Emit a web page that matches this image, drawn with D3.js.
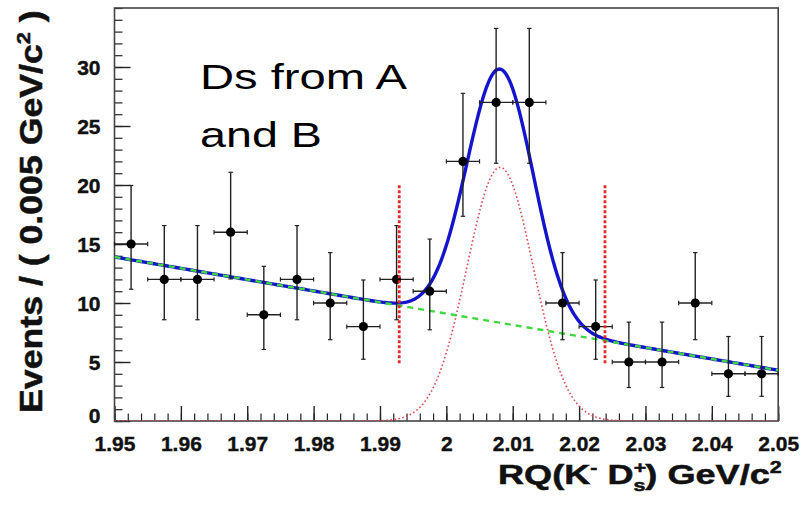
<!DOCTYPE html>
<html>
<head>
<meta charset="utf-8">
<script src="https://cdn.jsdelivr.net/npm/d3@7"></script>
<style>
  html, body { margin: 0; padding: 0; background: #fff; }
  svg { display: block; }
  text { font-family: "Liberation Sans", Arial, Helvetica, sans-serif; }
</style>
</head>
<body>
<svg id="chart" width="802" height="505"></svg>
<script>
// ---------------- data ----------------
const binCenters = [1.9525, 1.9575, 1.9625, 1.9675, 1.9725, 1.9775, 1.9825, 1.9875, 1.9925, 1.9975,
                    2.0025, 2.0075, 2.0125, 2.0175, 2.0225, 2.0275, 2.0325, 2.0375, 2.0425, 2.0475];
const counts     = [15, 12, 12, 16, 9, 12, 10, 8, 12, 11, 22, 27, 27, 10, 8, 5, 5, 10, 4, 4];
const errLowEdge = [11.17, 8.58, 8.58, 12.04, 6.06, 8.58, 6.89, 5.23, 8.58, 7.73,
                    17.35, 21.84, 21.84, 6.89, 5.23, 2.84, 2.84, 6.89, 2.09, 2.09];
const errHighEdge= [19.96, 16.56, 16.56, 21.08, 13.11, 16.56, 14.27, 11.95, 16.56, 15.42,
                    27.77, 33.27, 33.27, 14.27, 11.95, 8.38, 8.38, 14.27, 7.16, 7.16];
const binHalfWidth = 0.0025;

// fit model parameters
const bkgX = [1.95, 2.05];
const bkgY = [13.9, 4.3];
const sigMean = 2.0081;
const sigSigma = 0.0050;
const sigAmp = 21.5;

// signal window markers
const windowX = [1.9929, 2.0239];
const windowY = [4.9, 20.0];

const xTickValues = [1.95, 1.96, 1.97, 1.98, 1.99, 2.00, 2.01, 2.02, 2.03, 2.04, 2.05];
const xTickLabels = ["1.95", "1.96", "1.97", "1.98", "1.99", "2", "2.01", "2.02", "2.03", "2.04", "2.05"];
const yTickValues = [0, 5, 10, 15, 20, 25, 30];
const yTickLabels = ["0", "5", "10", "15", "20", "25", "30"];

const xDomain = [1.95, 2.05];
const yDomain = [0, 35];

// ---------------- layout ----------------
const svg = d3.select("#chart");
const L = 114.5, R = 778.2, T = 8, B = 421;

const x = d3.scaleLinear().domain(xDomain).range([L, R]);
const y = d3.scaleLinear().domain(yDomain).range([B, T]);

// minor ticks
const xMinor = d3.range(0, 51).map(i => xDomain[0] + i * 0.002);
const yMinor = d3.range(yDomain[0], yDomain[1] + 1, 1);

svg.append("g").attr("transform", `translate(0,${B})`)
  .call(d3.axisBottom(x).tickValues(xMinor).tickSizeInner(-7.5).tickSizeOuter(0).tickFormat(""))
  .call(g => g.select(".domain").remove())
  .call(g => g.selectAll("line").attr("stroke", "#222").attr("stroke-width", 1.2));

svg.append("g").attr("transform", `translate(${L},0)`)
  .call(d3.axisLeft(y).tickValues(yMinor).tickSizeInner(-8).tickSizeOuter(0).tickFormat(""))
  .call(g => g.select(".domain").remove())
  .call(g => g.selectAll("line").attr("stroke", "#222").attr("stroke-width", 1.2));

// major ticks + labels
svg.append("g").attr("transform", `translate(0,${B})`)
  .call(d3.axisBottom(x).tickValues(xTickValues).tickFormat((d, i) => xTickLabels[i])
        .tickSizeInner(-15).tickSizeOuter(0).tickPadding(15))
  .call(g => g.select(".domain").remove())
  .call(g => g.selectAll("line").attr("stroke", "#222").attr("stroke-width", 1.4))
  .call(g => g.selectAll("text").attr("font-size", 21).attr("font-weight", "bold")
        .attr("fill", "#111").attr("stroke", "#111").attr("stroke-width", 0.4)
        .attr("font-family", "Liberation Sans, Arial, sans-serif"));

svg.append("g").attr("transform", `translate(${L},0)`)
  .call(d3.axisLeft(y).tickValues(yTickValues).tickFormat((d, i) => yTickLabels[i])
        .tickSizeInner(-16).tickSizeOuter(0).tickPadding(14))
  .call(g => g.select(".domain").remove())
  .call(g => g.selectAll("line").attr("stroke", "#222").attr("stroke-width", 1.4))
  .call(g => g.selectAll("text").attr("font-size", 21).attr("font-weight", "bold")
        .attr("fill", "#111").attr("stroke", "#111").attr("stroke-width", 0.4)
        .attr("font-family", "Liberation Sans, Arial, sans-serif")
        .attr("dy", d => d === 0 ? "0.05em" : "0.36em"));

// frame
svg.append("rect").attr("x", L).attr("y", T).attr("width", R - L).attr("height", B - T)
  .attr("fill", "none").attr("stroke", "#444").attr("stroke-width", 1.6);

// ---------------- curves ----------------
svg.append("clipPath").attr("id", "plotclip")
  .append("rect").attr("x", L).attr("y", T).attr("width", R - L).attr("height", B - T);

const bkgScale = d3.scaleLinear().domain(bkgX).range(bkgY);
const sig = m => sigAmp * Math.exp(-0.5 * Math.pow((m - sigMean) / sigSigma, 2));
const samples = d3.range(0, 401).map(i => xDomain[0] + i * (xDomain[1] - xDomain[0]) / 400);

const line = d3.line().x(d => x(d[0])).y(d => y(d[1]));
const plot = svg.append("g").attr("clip-path", "url(#plotclip)");

// signal component (red dotted)
plot.append("path").datum(samples.map(m => [m, sig(m)]))
  .attr("d", line).attr("fill", "none").attr("stroke", "#e0484f")
  .attr("stroke-width", 1.6).attr("stroke-dasharray", "1.6,2.4");

// total (blue)
plot.append("path").datum(samples.map(m => [m, bkgScale(m) + sig(m)]))
  .attr("d", line).attr("fill", "none").attr("stroke", "#1414cc").attr("stroke-width", 3.4);

// background (green dashed)
plot.append("path").datum(samples.map(m => [m, bkgScale(m)]))
  .attr("d", line).attr("fill", "none").attr("stroke", "#3fd83f")
  .attr("stroke-width", 2.4).attr("stroke-dasharray", "6,5");

// ---------------- data points ----------------
const pts = binCenters.map((c, i) => ({ c, n: counts[i], lo: errLowEdge[i], hi: errHighEdge[i] }));
const pg = svg.append("g").selectAll("g").data(pts).join("g");
const ec = "#222";
pg.append("line").attr("x1", d => x(d.c)).attr("x2", d => x(d.c))
  .attr("y1", d => y(d.lo)).attr("y2", d => y(d.hi)).attr("stroke", ec).attr("stroke-width", 1.4);
pg.append("line").attr("x1", d => x(d.c - binHalfWidth)).attr("x2", d => x(d.c + binHalfWidth))
  .attr("y1", d => y(d.n)).attr("y2", d => y(d.n)).attr("stroke", ec).attr("stroke-width", 1.4);
// caps
pg.append("line").attr("x1", d => x(d.c) - 2.2).attr("x2", d => x(d.c) + 2.2)
  .attr("y1", d => y(d.hi)).attr("y2", d => y(d.hi)).attr("stroke", ec).attr("stroke-width", 1.2);
pg.append("line").attr("x1", d => x(d.c) - 2.2).attr("x2", d => x(d.c) + 2.2)
  .attr("y1", d => y(d.lo)).attr("y2", d => y(d.lo)).attr("stroke", ec).attr("stroke-width", 1.2);
pg.append("line").attr("x1", d => x(d.c - binHalfWidth)).attr("x2", d => x(d.c - binHalfWidth))
  .attr("y1", d => y(d.n) - 2.2).attr("y2", d => y(d.n) + 2.2).attr("stroke", ec).attr("stroke-width", 1.2);
pg.append("line").attr("x1", d => x(d.c + binHalfWidth)).attr("x2", d => x(d.c + binHalfWidth))
  .attr("y1", d => y(d.n) - 2.2).attr("y2", d => y(d.n) + 2.2).attr("stroke", ec).attr("stroke-width", 1.2);
pg.append("circle").attr("cx", d => x(d.c)).attr("cy", d => y(d.n)).attr("r", 4.6).attr("fill", "#000");

// window markers (red dashed vertical)
svg.append("g").selectAll("line").data(windowX).join("line")
  .attr("x1", d => x(d)).attr("x2", d => x(d))
  .attr("y1", y(windowY[0])).attr("y2", y(windowY[1]))
  .attr("stroke", "#e02a2a").attr("stroke-width", 2.8).attr("stroke-dasharray", "3,2");

// ---------------- texts ----------------
function fitText(g, targetWidth) {
  const t = g.select("text").node();
  const w = t.getBBox().width;
  const s = targetWidth / w;
  g.attr("transform", g.attr("transform") + ` scale(${s},1)`);
}

// annotation
const a1 = svg.append("g").attr("transform", "translate(200,89.3)");
a1.append("text").attr("font-size", 35).attr("fill", "#000").text("Ds from A");
fitText(a1, 208);
const a2 = svg.append("g").attr("transform", "translate(200,146.7)");
a2.append("text").attr("font-size", 35).attr("fill", "#000").text("and B");
fitText(a2, 122);

// x title
const xt = svg.append("g").attr("transform", "translate(498,483.5)");
const xtt = xt.append("text").attr("font-size", 27).attr("font-weight", "bold")
  .attr("fill", "#111").attr("stroke", "#111").attr("stroke-width", 0.5);
xtt.append("tspan").text("RQ(K");
xtt.append("tspan").attr("dy", -11).attr("font-size", 16).text("-");
xtt.append("tspan").attr("dy", 11).text(" D");
xtt.append("tspan").attr("dy", -11).attr("font-size", 16).text("+");
xtt.append("tspan").attr("dx", -9.5).attr("dy", 18).attr("font-size", 16).text("s");
xtt.append("tspan").attr("dy", -7).text(") GeV/c");
xtt.append("tspan").attr("dy", -11).attr("font-size", 16).text("2");
fitText(xt, 284);

// y title
const yt = svg.append("g").attr("transform", "translate(41.5,413) rotate(-90)");
const ytt = yt.append("text").attr("font-size", 31).attr("font-weight", "bold")
  .attr("fill", "#111").attr("stroke", "#111").attr("stroke-width", 0.5);
ytt.append("tspan").text("Events / ( 0.005 GeV/c");
ytt.append("tspan").attr("dy", -12).attr("font-size", 19).text("2");
ytt.append("tspan").attr("dy", 12).text(" )");
fitText(yt, 403);
</script>
</body>
</html>
